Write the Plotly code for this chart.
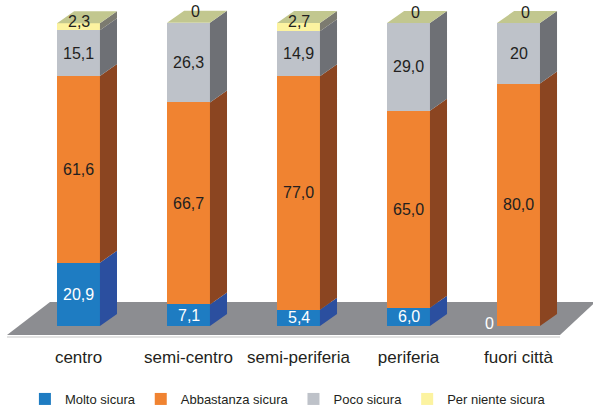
import plotly.graph_objects as go

# Survey answers by area (percentages)
categories = ["centro", "semi-centro", "semi-periferia", "periferia", "fuori città"]
molto_sicura = [20.9, 7.1, 5.4, 6.0, 0]
abbastanza_sicura = [61.6, 66.7, 77.0, 65.0, 80.0]
poco_sicura = [15.1, 26.3, 14.9, 29.0, 20]
per_niente_sicura = [2.3, 0, 2.7, 0, 0]

molto_text = ["20,9", "7,1", "5,4", "6,0", "0"]
abbastanza_text = ["61,6", "66,7", "77,0", "65,0", "80,0"]
poco_text = ["15,1", "26,3", "14,9", "29,0", "20"]
per_niente_text = ["2,3", "0", "2,7", "0", "0"]

series = [
    ("Molto sicura", molto_sicura, molto_text, "#1E7CC2", "#2B4F9F", "white"),
    ("Abbastanza sicura", abbastanza_sicura, abbastanza_text, "#F08331", "#8B4521", "#231F20"),
    ("Poco sicura", poco_sicura, poco_text, "#BEC2C9", "#6E7075", "#231F20"),
    ("Per niente sicura", per_niente_sicura, per_niente_text, "#FCF3A0", "#7C7B70", "#231F20"),
]
TOP_COLOR = "#C2C78F"
FLOOR_COLOR = "#8C8D91"
FONT = "Liberation Sans, Arial, sans-serif"

# 3D extrusion of the bars, in axis units
W = 0.39
DX = 0.155
DY = 3.96

xs = list(range(len(categories)))
fig = go.Figure()

# Floor plane under the bars
floor = [(-0.650, -2.97), (-0.259, 7.92), (4.70, 7.92), (4.377, -2.97)]
path = "M " + " L ".join(f"{x},{y}" for x, y in floor) + " Z"
fig.add_shape(type="path", path=path, xref="x", yref="y", fillcolor=FLOOR_COLOR,
              line=dict(width=0), layer="below")
fig.add_shape(type="line", x0=-0.650, y0=-3.6, x1=4.377, y1=-3.6, xref="x", yref="y",
              line=dict(color="#DADADA", width=1.5), layer="below")

base = [0.0] * len(categories)
annotations = []
for name, vals, texts, front, side, tcol in series:
    fig.add_trace(go.Bar(
        x=xs, y=vals, base=base[:], width=W, name=name,
        marker=dict(color=front, line=dict(width=0)),
        hoverinfo="name+y",
    ))
    # right-hand side faces of each segment
    sx, sy = [], []
    for i, (b, v) in enumerate(zip(base, vals)):
        if v <= 0:
            continue
        xr = i + W / 2
        sx += [xr, xr + DX, xr + DX, xr, xr, None]
        sy += [b, b + DY, b + v + DY, b + v, b, None]
    if sx:
        fig.add_trace(go.Scatter(x=sx, y=sy, mode="lines", fill="toself", fillcolor=side,
                                 line=dict(width=0, color=side), showlegend=False,
                                 hoverinfo="skip"))
    # value labels
    for i, (b, v, t) in enumerate(zip(base, vals, texts)):
        ann = dict(x=i, y=b + v / 2, text=t, showarrow=False,
                   font=dict(family=FONT, size=16, color=tcol), xref="x", yref="y")
        if name == "Per niente sicura":
            ann["y"] = b + v
            if v == 0:
                ann.update(xshift=7, yshift=11)
            else:
                ann.update(yshift=2)
        elif v == 0:
            ann.update(x=i - W / 2, xanchor="right", xshift=-1, yshift=3)
        annotations.append(ann)
    base = [b + v for b, v in zip(base, vals)]

# top faces
tx, ty = [], []
for i, top in enumerate(base):
    xl, xr = i - W / 2, i + W / 2
    tx += [xl, xl + DX, xr + DX, xr, xl, None]
    ty += [top, top + DY, top + DY, top, top, None]
fig.add_trace(go.Scatter(x=tx, y=ty, mode="lines", fill="toself", fillcolor=TOP_COLOR,
                         line=dict(width=0, color=TOP_COLOR), showlegend=False,
                         hoverinfo="skip"))

fig.update_layout(
    width=593, height=409,
    margin=dict(l=0, r=0, t=0, b=69, autoexpand=False),
    barmode="stack",
    paper_bgcolor="white", plot_bgcolor="white",
    annotations=annotations,
    font=dict(family=FONT, color="#231F20"),
    xaxis=dict(range=[-0.7136, 4.677], tickvals=xs, ticktext=categories,
               showgrid=False, zeroline=False, showline=False,
               ticks="outside", ticklen=2, tickcolor="rgba(0,0,0,0)", automargin=False,
               tickfont=dict(family=FONT, size=17, color="#231F20"), fixedrange=True),
    yaxis=dict(range=[-4.62, 107.59], visible=False, fixedrange=True),
    legend=dict(orientation="h", x=0.042, xanchor="left", y=-0.1735, yanchor="middle",
                font=dict(family=FONT, size=13, color="#231F20"),
                itemwidth=30, traceorder="normal", bgcolor="rgba(0,0,0,0)"),
    showlegend=True,
)

fig.write_html("out.html")
